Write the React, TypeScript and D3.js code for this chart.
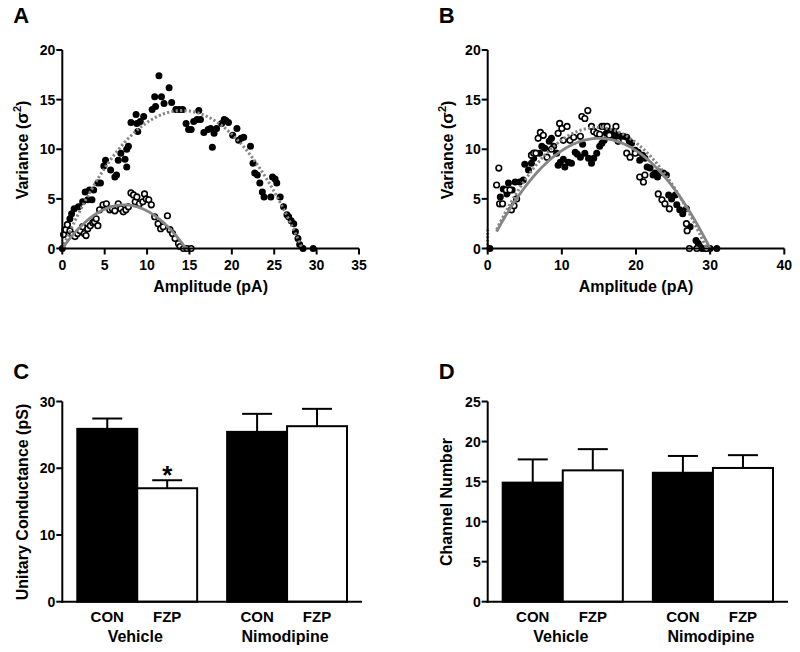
import React from "react";
import * as d3 from "d3";

// ---------- DATA ----------
// Panel A: variance vs amplitude (filled = control, open = FZP)
const aFilled: [number, number][] = [
  [0, 0], [0.3, 1.9], [0.6, 2.4], [0.9, 3.0], [1.1, 3.5], [1.4, 4.0], [1.9, 4.2], [2.4, 4.7],
  [2.7, 5.7], [3.0, 4.9], [3.2, 5.9], [3.5, 4.9], [3.7, 5.9], [4.2, 6.6], [4.5, 6.6], [4.9, 8.3],
  [5.1, 8.9], [5.7, 7.9], [6.2, 7.2], [6.4, 7.4], [6.6, 8.9], [6.9, 9.6], [7.4, 9.0], [7.6, 8.2],
  [7.6, 10.0], [7.8, 10.3], [8.1, 12.7], [8.7, 13.5], [8.8, 12.6], [8.9, 11.8], [9.2, 12.8],
  [9.6, 13.3], [10.6, 14.0], [10.9, 15.3], [11.0, 14.3], [11.4, 17.4], [11.7, 15.3], [12.0, 14.6],
  [12.6, 16.2], [12.9, 14.7], [13.4, 14.0], [13.8, 14.0], [14.2, 14.0], [14.6, 12.6], [14.9, 12.0],
  [15.2, 12.0], [15.5, 12.8], [15.9, 13.0], [16.1, 13.9], [16.3, 13.0], [16.7, 11.7], [17.2, 12.0],
  [17.5, 12.1], [17.7, 10.2], [17.9, 11.6], [18.2, 12.1], [18.8, 12.6], [19.1, 13.0], [19.3, 12.9],
  [19.6, 12.7], [20.1, 11.4], [20.6, 12.1], [20.8, 10.9], [21.1, 11.1], [21.4, 11.2], [22.2, 10.3],
  [22.5, 8.6], [22.7, 7.6], [23.0, 7.4], [23.3, 6.6], [23.6, 5.7], [23.8, 5.2], [24.6, 5.2],
  [24.8, 7.2], [25.1, 7.0], [25.3, 6.6], [25.7, 5.2], [26.1, 4.2], [26.5, 3.4], [26.7, 3.2],
  [27.0, 2.8], [27.3, 2.5], [27.5, 1.7], [27.8, 1.0], [28.0, 0.4], [28.4, 0], [29.6, 0],
];
const aOpen: [number, number][] = [
  [0.15, 1.4], [0.4, 1.9], [0.6, 2.4], [0.9, 1.8], [1.2, 1.4], [1.5, 1.2], [1.8, 1.5], [2.1, 1.8],
  [2.4, 2.2], [2.6, 1.5], [2.8, 1.3], [3.0, 2.0], [3.3, 2.3], [3.6, 2.6], [3.8, 2.7], [4.0, 3.0],
  [4.2, 2.3], [4.4, 3.9], [4.8, 4.4], [5.2, 4.5], [5.6, 3.9], [5.9, 4.0], [6.2, 3.8], [6.6, 4.5],
  [6.9, 4.0], [7.2, 3.7], [7.5, 3.9], [7.8, 4.2], [8.1, 5.6], [8.4, 5.4], [8.6, 4.7], [8.8, 5.2],
  [9.1, 4.5], [9.5, 4.7], [9.7, 5.5], [9.9, 5.0], [10.2, 4.9], [10.5, 4.4], [10.9, 3.2], [11.3, 2.5],
  [11.6, 2.0], [11.9, 2.2], [12.4, 3.3], [12.7, 1.9], [13.0, 1.5], [13.3, 1.0], [13.7, 0.5],
  [13.9, 0.2], [14.3, 0], [14.7, 0], [15.2, 0],
];
// Panel B
const bFilled: [number, number][] = [
  [0.3, 0], [1.7, 5.2], [2.1, 6.0], [2.6, 5.5], [2.8, 6.6], [3.3, 5.9], [3.7, 6.7], [4.3, 6.7],
  [4.8, 6.9], [5.0, 8.5], [5.5, 7.9], [5.9, 8.6], [6.2, 9.1], [7.0, 9.6], [7.3, 10.3], [7.7, 10.1],
  [8.3, 10.8], [8.6, 11.1], [8.9, 10.3], [9.3, 9.6], [9.5, 8.4], [9.8, 8.7], [10.2, 9.0], [10.4, 8.2],
  [10.9, 8.7], [11.3, 8.6], [11.8, 9.7], [12.1, 9.5], [12.5, 9.2], [12.8, 10.5], [13.1, 9.6],
  [13.6, 9.1], [14.0, 8.6], [14.3, 9.1], [14.7, 9.6], [15.1, 10.3], [15.4, 10.6], [15.7, 10.9],
  [16.0, 11.6], [16.3, 11.8], [16.6, 11.4], [17.0, 11.8], [17.3, 11.1], [17.6, 11.4], [17.9, 11.3],
  [18.3, 11.3], [18.75, 11.2], [19.1, 10.8], [19.4, 10.6], [19.9, 9.9], [20.3, 9.7], [20.5, 8.9],
  [20.9, 9.4], [21.2, 9.1], [21.5, 8.2], [21.9, 8.1], [22.3, 7.4], [22.6, 7.6], [22.9, 7.2],
  [23.2, 7.7], [23.7, 7.6], [24.1, 7.4], [24.4, 5.4], [24.8, 5.0], [25.3, 5.4], [25.5, 4.4],
  [25.9, 3.9], [26.3, 3.5], [26.8, 4.0], [27.3, 2.2], [28.1, 0.8], [28.4, 0.5], [28.6, 0.2],
  [28.9, 0], [29.3, 0], [30.0, 0], [30.9, 0],
];
const bOpen: [number, number][] = [
  [1.2, 6.4], [1.5, 8.1], [1.6, 4.5], [2.0, 4.5], [2.5, 5.9], [3.0, 5.9], [3.2, 3.9], [3.55, 4.3],
  [3.9, 5.0], [5.9, 9.4], [6.2, 9.6], [6.5, 9.6], [6.8, 11.1], [7.1, 11.7], [7.5, 11.4], [8.0, 9.2],
  [8.6, 10.0], [9.5, 11.6], [9.7, 12.6], [10.0, 12.1], [10.2, 10.9], [10.7, 12.3], [11.1, 10.9],
  [11.6, 11.2], [12.5, 11.3], [12.7, 13.3], [13.1, 13.1], [13.5, 13.9], [14.0, 12.3], [14.3, 11.8],
  [14.7, 11.6], [15.1, 11.5], [15.4, 12.3], [15.7, 12.3], [16.1, 12.3], [16.4, 11.4], [17.3, 12.3],
  [17.6, 10.8], [18.75, 9.6], [19.2, 9.2], [19.9, 9.6], [20.5, 7.2], [21.0, 6.7], [21.2, 7.4],
  [23.0, 5.5], [23.5, 4.9], [23.9, 4.5], [24.5, 4.0], [26.8, 2.5], [26.9, 1.8], [27.2, 0],
  [28.2, 0], [29.5, 0],
];
// Parabolic fits σ² = i·I − I²/N  (i = unitary current, N = channel number)
const aFits = [
  { i: 1.965, N: 14.4, start: 0, dashed: true },
  { i: 1.205, N: 12.1, start: 0, dashed: false },
];
const bFits = [
  { i: 1.654, N: 17.84, start: 1.2, dashed: true },
  { i: 1.48, N: 20.27, start: 1.2, dashed: false },
];
const aXTicks = [0, 5, 10, 15, 20, 25, 30, 35];
const bXTicks = [0, 10, 20, 30, 40];
const varYTicks = [0, 5, 10, 15, 20];

// Panels C and D
const groups = ["Vehicle", "Nimodipine"];
const conditions = ["CON", "FZP"];
const cMeans = [25.9, 17.0, 25.45, 26.3];
const cErrors = [1.55, 1.2, 2.7, 2.6];
const cYTicks = [0, 10, 20, 30];
const dMeans = [14.87, 16.4, 16.1, 16.7];
const dErrors = [2.9, 2.65, 2.1, 1.6];
const dYTicks = [0, 5, 10, 15, 20, 25];

// ---------- STYLE ----------
const FONT = "Arial, 'Liberation Sans', Helvetica, sans-serif";
const GRAY = "#858585";

function YAxis({ x, y, ticks }: { x: number; y: d3.ScaleLinear<number, number>; ticks: number[] }) {
  const r = y.range();
  return (
    <g>
      <line x1={x} x2={x} y1={r[0] + 1} y2={r[1]} stroke="#000" strokeWidth={2} />
      {ticks.map((t) => (
        <g key={t}>
          <line x1={x - 6} x2={x} y1={y(t)} y2={y(t)} stroke="#000" strokeWidth={2} />
          <text x={x - 7} y={y(t)} dy="0.36em" textAnchor="end" fontSize={14} fontWeight="bold" fontFamily={FONT}>
            {t}
          </text>
        </g>
      ))}
    </g>
  );
}

function ScatterPanel({
  x0, x1, xMax, xTicks, filled, open, fits, label, ylabelX, vline,
}: {
  x0: number; x1: number; xMax: number; xTicks: number[];
  filled: [number, number][]; open: [number, number][];
  fits: { i: number; N: number; start: number; dashed: boolean }[];
  label: string; ylabelX: number; vline: number;
}) {
  const x = d3.scaleLinear().domain([0, xMax]).range([x0, x1]);
  const y = d3.scaleLinear().domain([0, 20]).range([248.5, 50]);
  const line = d3.line<[number, number]>().x((d) => x(d[0])).y((d) => y(d[1]));
  return (
    <g>
      <text x={x0 - 49} y={23} fontSize={22} fontWeight="bold" fontFamily={FONT}>{label}</text>
      {filled.map((d, k) => (
        <circle key={"f" + k} cx={x(d[0])} cy={y(d[1])} r={3.5} fill="#000" />
      ))}
      {open.map((d, k) => (
        <circle key={"o" + k} cx={x(d[0])} cy={y(d[1])} r={2.8} fill="#fff" stroke="#000" strokeWidth={1.6} />
      ))}
      {fits.map((f, k) => {
        const end = f.i * f.N;
        const pts: [number, number][] = d3.range(f.start, end, 0.1).map((v) => [v, Math.max(0, f.i * v - (v * v) / f.N)]);
        pts.push([end, 0]);
        return (
          <path key={"fit" + k} d={line(pts) || ""} fill="none" stroke={GRAY}
            strokeWidth={f.dashed ? 3 : 2.8} strokeDasharray={f.dashed ? "2.2 2.2" : undefined} />
        );
      })}
      {vline > 0 && (
        <line x1={x(0)} x2={x(0)} y1={y(0)} y2={y(vline)} stroke={GRAY} strokeWidth={3} strokeDasharray="1.5 2" />
      )}
      {/* x axis */}
      <line x1={x0 - 1} x2={x1} y1={y(0)} y2={y(0)} stroke="#000" strokeWidth={2} />
      {xTicks.map((t) => (
        <g key={t}>
          <line x1={x(t)} x2={x(t)} y1={y(0)} y2={y(0) + 6} stroke="#000" strokeWidth={2} />
          <text x={x(t)} y={270} textAnchor="middle" fontSize={14} fontWeight="bold" fontFamily={FONT}>{t}</text>
        </g>
      ))}
      <YAxis x={x0} y={y} ticks={varYTicks} />
      <text x={(x0 + x1) / 2} y={292} textAnchor="middle" fontSize={16} fontWeight="bold" fontFamily={FONT}>
        Amplitude (pA)
      </text>
      <text transform={`translate(${ylabelX},150) rotate(-90)`} textAnchor="middle" dy="0.35em"
        fontSize={16} fontWeight="bold" fontFamily={FONT}>
        Variance (<tspan fontSize={17}>σ</tspan><tspan dy={-7} fontSize={11}>2</tspan><tspan dy={7}>)</tspan>
      </text>
    </g>
  );
}

function BarPanel({
  x0, x1, yMax, yTicks, means, errors, label, ylabel, ylabelX, star,
}: {
  x0: number; x1: number; yMax: number; yTicks: number[]; means: number[]; errors: number[];
  label: string; ylabel: string; ylabelX: number; star: boolean;
}) {
  const y = d3.scaleLinear().domain([0, yMax]).range([601.7, 401.5]);
  const gx = d3.scaleBand<string>().domain(groups).range([x0 + 15, x1 - 15]).paddingInner(0.2).paddingOuter(0);
  const cx = d3.scaleBand<string>().domain(conditions).range([0, gx.bandwidth()]).padding(0);
  const bars = groups.flatMap((g, gi) =>
    conditions.map((c, ci) => ({ g, c, v: means[gi * 2 + ci], e: errors[gi * 2 + ci], x: (gx(g) || 0) + (cx(c) || 0) }))
  );
  const bw = cx.bandwidth();
  return (
    <g>
      <text x={x0 - 49} y={379} fontSize={22} fontWeight="bold" fontFamily={FONT}>{label}</text>
      {bars.map((b, k) => (
        <g key={k}>
          <line x1={b.x + bw / 2} x2={b.x + bw / 2} y1={y(b.v)} y2={y(b.v + b.e)} stroke="#000" strokeWidth={2} />
          <line x1={b.x + bw / 4} x2={b.x + (3 * bw) / 4} y1={y(b.v + b.e)} y2={y(b.v + b.e)} stroke="#000" strokeWidth={2} />
          <rect x={b.x} y={y(b.v)} width={bw} height={y(0) - y(b.v)} fill={b.c === "CON" ? "#000" : "#fff"}
            stroke="#000" strokeWidth={2} />
          <text x={b.x + bw / 2} y={622} textAnchor="middle" fontSize={15} fontWeight="bold" fontFamily={FONT}>{b.c}</text>
        </g>
      ))}
      {star && (
        <text x={bars[1].x + bw / 2} y={y(bars[1].v + bars[1].e) + 4} textAnchor="middle" fontSize={26}
          fontWeight="bold" fontFamily={FONT}>*</text>
      )}
      {groups.map((g) => (
        <text key={g} x={(gx(g) || 0) + gx.bandwidth() / 2 - 2} y={642} textAnchor="middle" fontSize={16}
          fontWeight="bold" fontFamily={FONT}>{g}</text>
      ))}
      <line x1={x0 - 1} x2={x1} y1={y(0)} y2={y(0)} stroke="#000" strokeWidth={2} />
      <YAxis x={x0} y={y} ticks={yTicks} />
      <text transform={`translate(${ylabelX},502) rotate(-90)`} textAnchor="middle" dy="0.35em"
        fontSize={16} fontWeight="bold" fontFamily={FONT}>{ylabel}</text>
    </g>
  );
}

export default function App() {
  return (
    <svg width={800} height={652} viewBox="0 0 800 652"
      style={{ position: "absolute", left: 0, top: 0, background: "#fff", display: "block" }}>
      <rect width={800} height={652} fill="#fff" />
      <ScatterPanel x0={62.3} x1={359} xMax={35} xTicks={aXTicks} filled={aFilled} open={aOpen} fits={aFits}
        label="A" ylabelX={22} vline={0} />
      <ScatterPanel x0={487.7} x1={784.3} xMax={40} xTicks={bXTicks} filled={bFilled} open={bOpen} fits={bFits}
        label="B" ylabelX={447} vline={2} />
      <BarPanel x0={62.3} x1={362} yMax={30} yTicks={cYTicks} means={cMeans} errors={cErrors} label="C"
        ylabel="Unitary Conductance (pS)" ylabelX={22} star={true} />
      <BarPanel x0={487.7} x1={788} yMax={25} yTicks={dYTicks} means={dMeans} errors={dErrors} label="D"
        ylabel="Channel Number" ylabelX={446} star={false} />
    </svg>
  );
}
